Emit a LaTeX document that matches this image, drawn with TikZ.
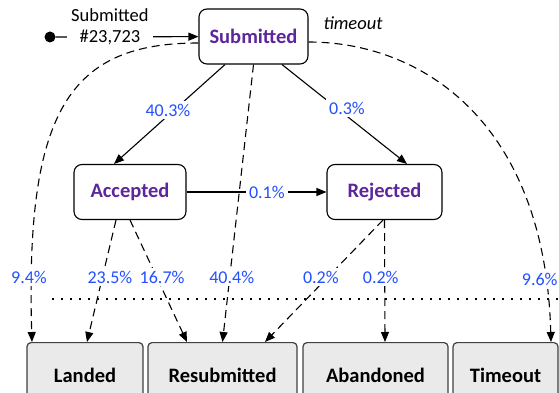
\documentclass[tikz,border=0pt]{standalone}
\usepackage{fontspec}
\setmainfont{Carlito}
\usetikzlibrary{arrows.meta,positioning}

\definecolor{statepurple}{RGB}{93,38,155}
\definecolor{pctblue}{RGB}{35,80,255}
\definecolor{boxgray}{RGB}{234,234,234}
\definecolor{boxedge}{RGB}{64,64,64}

\begin{document}
\begin{tikzpicture}[x=1pt, y=-1pt,
    state/.style = {draw, fill=white, rounded corners=8pt, line width=1.1pt, minimum height=55pt,
                    font=\fontsize{20.5}{24}\selectfont\bfseries, text=statepurple},
    final/.style = {draw=boxedge, fill=boxgray, rounded corners=4pt, line width=1.2pt, anchor=north,
                    minimum height=65pt, font=\fontsize{20.5}{24}\selectfont\bfseries},
    pct/.style = {fill=white, inner sep=3pt, text=pctblue, font=\fontsize{18}{21}\selectfont},
    flow/.style = {line width=1.1pt, -{Triangle[length=10pt,width=8pt]}},
    drop/.style = {flow, dash pattern=on 8pt off 5pt},
  ]
  \useasboundingbox (0,0) rectangle (559,393);

  % states
  \node[state, minimum width=109pt] (sub) at (253.5,36.5) {Submitted};
  \node[state, minimum width=112pt] (acc) at (130,192) {Accepted};
  \node[state, minimum width=115pt] (rej) at (384.5,192) {Rejected};

  % outcomes
  \node[final, minimum width=116pt] (land)  at (85,342)    {Landed};
  \node[final, minimum width=149pt] (resub) at (222.5,342) {Resubmitted};
  \node[final, minimum width=145pt] (aband) at (375.5,342) {Abandoned};
  \node[final, minimum width=105pt] (tout)  at (505.5,342) {Timeout};

  % entry
  \node[circle, fill, inner sep=0pt, minimum size=11pt] (start) at (50,37) {};
  \draw[flow] (start) -- node[fill=white, inner sep=4pt, pos=.38, yshift=10.5pt, align=center,
      font=\fontsize{18.5}{21}\selectfont] {Submitted\\\#23,723} (sub);
  \node[font=\fontsize{18.5}{21}\selectfont\itshape] (tlabel) at (353,23) {timeout};

  % threshold
  \draw[line width=1.4pt, dash pattern=on 1.6pt off 7.4pt] (52,299) -- (559,299);

  % transitions
  \draw[flow] ([xshift=-28.5pt]sub.south) -- node[pct, pos=.46, xshift=-6pt] {40.3\%} ([xshift=-16pt]acc.north);
  \draw[flow] ([xshift=28.5pt]sub.south) -- node[pct, pos=.44, xshift=10pt] {0.3\%} ([xshift=22.5pt]rej.north);
  \draw[flow] (acc) -- node[pct, pos=.574] {0.1\%} (rej);

  % exits
  \draw[drop] ([yshift=-6.5pt]sub.west) .. controls (70,43) and (25,110) .. ([xshift=-53pt]land.north)
      node[pct, pos=.9, xshift=-2.5pt] {9.4\%};
  \draw[drop] ([yshift=-5.5pt]sub.east) .. controls (420,42) and (545,120) .. ([xshift=45.5pt]tout.north)
      node[pct, pos=.9, xshift=-6pt] {9.6\%};
  \draw[drop] (sub.south) -- node[pct, pos=.766, xshift=2pt] {40.4\%} (resub.north);
  \draw[drop] ([xshift=-14pt]acc.south) -- node[pct, pos=.467, xshift=7.5pt] {23.5\%} ([xshift=2pt]land.north);
  \draw[drop] (acc.south) -- node[pct, pos=.467, xshift=5.5pt] {16.7\%} ([xshift=-35.5pt]resub.north);
  \draw[drop] ([xshift=-1.5pt]rej.south) -- node[pct, pos=.467, xshift=-7pt] {0.2\%} ([xshift=42.5pt]resub.north);
  \draw[drop] (rej.south) -- node[pct, pos=.467, xshift=-4pt] {0.2\%} ([xshift=9.5pt]aband.north);
\end{tikzpicture}
\end{document}
